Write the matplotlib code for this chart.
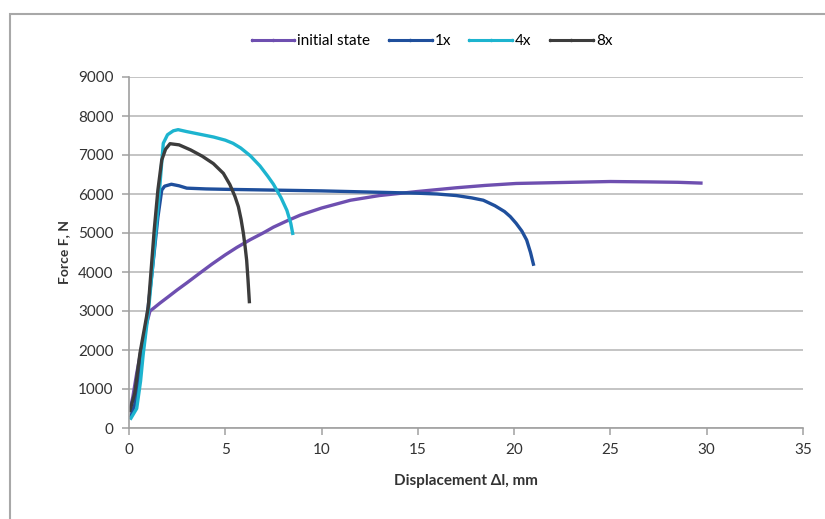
import numpy as np
import matplotlib.pyplot as plt
from matplotlib.patches import Rectangle

plt.rcParams['font.family'] = ['Lato', 'DejaVu Sans']

# displacement (mm) / force (N)
init_x = [0.05, 0.2, 0.4, 0.66, 0.9, 1.09, 1.3, 1.6, 2.0, 2.5, 3.0, 3.7, 4.3, 5.0, 5.6,
          6.3, 7.0, 7.5, 8.2, 8.9, 10.0, 11.5, 13.0, 14.9, 17.0, 18.5, 20.1, 22.0,
          24.0, 25.0, 27.0, 28.5, 29.7]
init_y = [450, 800, 1400, 2085, 2650, 3000, 3080, 3200, 3350, 3540, 3720, 3980, 4200,
          4440, 4630, 4830, 5010, 5150, 5310, 5460, 5640, 5840, 5960, 6060, 6160, 6220,
          6270, 6290, 6310, 6320, 6310, 6300, 6280]

x1_x = [0.1, 0.3, 0.6, 0.9, 1.2, 1.5, 1.7, 1.85, 2.2, 2.6, 3.0, 4.0, 5.0, 7.5, 10.0,
        12.5, 15.0, 16.0, 17.0, 17.8, 18.4, 19.0, 19.5, 19.8, 20.1, 20.4, 20.65, 20.85,
        21.0]
x1_y = [300, 600, 1500, 2700, 4000, 5400, 6100, 6200, 6250, 6210, 6150, 6130, 6120,
        6100, 6080, 6050, 6020, 6000, 5960, 5900, 5840, 5700, 5550, 5420, 5250, 5050,
        4820, 4500, 4200]

x4_x = [0.1, 0.4, 0.6, 0.74, 1.0, 1.2, 1.4, 1.6, 1.78, 2.0, 2.3, 2.55, 3.0, 3.5, 4.4,
        5.0, 5.4, 5.8, 6.3, 6.8, 7.2, 7.5, 7.9, 8.2, 8.4, 8.5]
x4_y = [250, 500, 1200, 1900, 2950, 4000, 5080, 6200, 7300, 7520, 7620, 7650, 7600,
        7550, 7460, 7380, 7300, 7180, 6980, 6720, 6460, 6250, 5900, 5580, 5250, 4990]

x8_x = [0.05, 0.3, 0.57, 0.8, 1.0, 1.31, 1.5, 1.7, 1.9, 2.13, 2.6, 3.2, 3.8, 4.38, 4.9,
        5.24, 5.5, 5.68, 5.82, 5.94, 6.03, 6.11, 6.18, 6.25]
x8_y = [450, 900, 1920, 2550, 3100, 5080, 6100, 6870, 7150, 7290, 7260, 7130, 6970,
        6780, 6530, 6240, 5940, 5675, 5350, 4990, 4650, 4300, 3800, 3240]

series = [
    ('initial state', init_x, init_y, '#6E4FB0'),
    ('1x', x1_x, x1_y, '#1F4F9C'),
    ('4x', x4_x, x4_y, '#1DB4CF'),
    ('8x', x8_x, x8_y, '#3C3C3C'),
]

fig = plt.figure(figsize=(8.25, 5.19), dpi=100)
ax = fig.add_axes([129 / 825, 1 - 428 / 519, (803 - 129) / 825, (428 - 77) / 519])

for name, xs, ys, col in series:
    ax.plot(xs, ys, color=col, linewidth=2.4, label=name,
            marker='.', markersize=3, markevery=[])

ax.set_xlim(0, 35)
ax.set_ylim(0, 9000)
ax.set_xticks(np.arange(0, 36, 5))
ax.set_yticks(np.arange(0, 9001, 1000))
ax.grid(axis='y', color='#C4C4C4', linewidth=1.4)
ax.set_axisbelow(True)
for s in ['top', 'right']:
    ax.spines[s].set_visible(False)
for s in ['left', 'bottom']:
    ax.spines[s].set_color('#A0A0A0')
    ax.spines[s].set_linewidth(1.2)
ax.tick_params(axis='both', colors='#A0A0A0', labelcolor='#333333',
               labelsize=11, length=5, width=1.1)
ax.tick_params(axis='y', pad=6)
ax.tick_params(axis='x', pad=6)

ax.set_xlabel('Displacement Δl, mm', fontsize=11, fontweight='bold',
              color='#333333', labelpad=12)
ax.set_ylabel('Force F, N', fontsize=10, fontweight='bold', color='#333333',
              labelpad=6)

leg = fig.legend(loc='center', bbox_to_anchor=(432 / 825, 1 - 41 / 519), ncol=4,
                 frameon=False, fontsize=11, handlelength=2.8, columnspacing=1.2,
                 handletextpad=0.2)
for h in leg.legend_handles:
    h.set_markevery(None)
    h.set_linewidth(2.2)

frame = Rectangle((10 / 825, -0.2), 1.2, 1 - 14 / 519 + 0.2, transform=fig.transFigure,
                  fill=False, edgecolor='#A8A8A8', linewidth=1.5, clip_on=False)
fig.patches.append(frame)

fig.savefig('out.png', dpi=100)
